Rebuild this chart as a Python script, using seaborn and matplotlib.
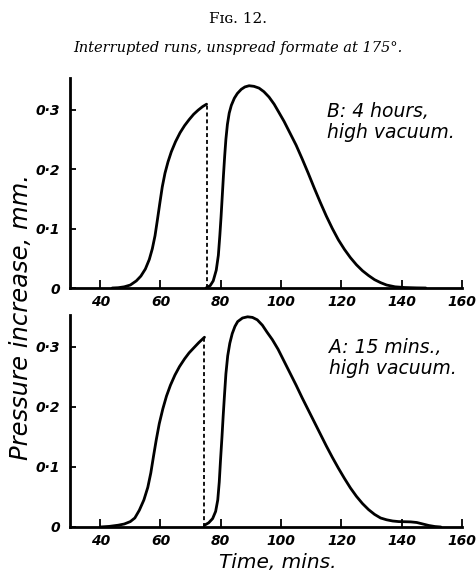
import matplotlib
matplotlib.use("Agg")
import matplotlib.pyplot as plt
import seaborn as sns
import pandas as pd

# ---- data: run B (4 hours, high vacuum) ----
b_rise_t = [44, 46, 48, 50, 52, 53.5, 55, 56.3, 57.3, 58.2, 59, 59.8, 60.6, 61.5, 62.5, 63.6, 65,
            66.5, 68, 69.5, 71, 72.5, 74, 75.3]
b_rise_p = [0.0, 0.0005, 0.002, 0.005, 0.012, 0.020, 0.032, 0.048, 0.066, 0.088, 0.115, 0.143,
            0.170, 0.193, 0.212, 0.229, 0.246, 0.261, 0.273, 0.283, 0.292, 0.299, 0.305, 0.309]
b_cut = 75.3
b_decay_t = [75.1, 76.5, 77.5, 78.5, 79.2, 79.7, 80.1, 80.5, 80.9, 81.3, 81.7, 82.2, 82.8, 83.5,
             84.5, 85.5, 86.8, 88, 89.4, 91, 92.7, 94.3, 96, 97.7, 99.3, 101, 103, 105, 107, 109,
             111, 113, 115, 117, 119, 121, 123, 125, 127, 129, 131, 133, 135, 137.8, 141, 145, 148]
b_decay_p = [0.0, 0.004, 0.012, 0.030, 0.055, 0.089, 0.12, 0.155, 0.19, 0.222, 0.25, 0.275, 0.294,
             0.307, 0.319, 0.327, 0.334, 0.338, 0.340, 0.339, 0.336, 0.330, 0.321, 0.309, 0.295,
             0.280, 0.260, 0.240, 0.217, 0.193, 0.168, 0.144, 0.121, 0.100, 0.081, 0.065, 0.051,
             0.039, 0.029, 0.021, 0.014, 0.009, 0.005, 0.002, 0.0008, 0.0002, 0.0]

# ---- data: run A (15 mins., high vacuum) ----
a_rise_t = [40, 43, 46, 48, 50, 51.5, 53, 54.5, 55.8, 56.8, 57.7, 58.6, 59.6, 60.8, 62, 63.3,
            64.8, 66.3, 68, 69.5, 71, 72.7, 74.6]
a_rise_p = [0.0, 0.001, 0.003, 0.005, 0.009, 0.015, 0.028, 0.045, 0.066, 0.09, 0.118, 0.145,
            0.172, 0.197, 0.218, 0.236, 0.253, 0.267, 0.280, 0.290, 0.298, 0.307, 0.316]
a_cut = 74.6
a_decay_t = [74.6, 76, 77.3, 78.3, 79, 79.5, 79.9, 80.4, 80.8, 81.2, 81.7, 82.3, 83.0, 83.8, 84.7,
             85.6, 87.2, 88.9, 90.5, 92.1, 93.8, 95.4, 97.1, 99, 101, 103, 105, 107, 109, 111, 113,
             115, 117, 119, 121, 123, 125, 127, 129, 131, 133, 135, 137, 139, 141, 143, 145, 147,
             149, 151, 153]
a_decay_p = [0.003, 0.007, 0.014, 0.026, 0.045, 0.075, 0.11, 0.15, 0.185, 0.217, 0.255, 0.285,
             0.306, 0.322, 0.334, 0.342, 0.348, 0.350, 0.349, 0.345, 0.336, 0.324, 0.312, 0.296,
             0.276, 0.256, 0.236, 0.215, 0.195, 0.175, 0.155, 0.135, 0.116, 0.098, 0.081, 0.065,
             0.051, 0.039, 0.029, 0.021, 0.015, 0.012, 0.010, 0.009, 0.0088, 0.0085, 0.0075, 0.005,
             0.0025, 0.0008, 0.0]

x_ticks = [40, 60, 80, 100, 120, 140, 160]
y_ticks = [0, 0.1, 0.2, 0.3]
y_tick_labels = ["0", "0·1", "0·2", "0·3"]

panels = [
    ("B", b_rise_t, b_rise_p, b_cut, b_decay_t, b_decay_p, "B: 4 hours,\nhigh vacuum."),
    ("A", a_rise_t, a_rise_p, a_cut, a_decay_t, a_decay_p, "A: 15 mins.,\nhigh vacuum."),
]

sns.set_theme(style="ticks")
plt.rcParams["font.family"] = ["DejaVu Sans"]
for key in ("text.color", "axes.labelcolor", "xtick.color", "ytick.color", "axes.edgecolor"):
    plt.rcParams[key] = "black"

fig = plt.figure(figsize=(4.77, 5.74), dpi=100)
axes_rects = [
    [70 / 477, 1 - 288 / 574, 392 / 477, 210 / 574],
    [70 / 477, 1 - 527 / 574, 392 / 477, 212 / 574],
]
note_pos = [(327 / 477, 1 - 102 / 574), (329 / 477, 1 - 338 / 574)]

tick_font = dict(family="DejaVu Sans", style="italic", weight="bold", size=10)

for rect, pos, (name, rt, rp, cut, dt, dp, note) in zip(axes_rects, note_pos, panels):
    ax = fig.add_axes(rect)
    df = pd.concat([
        pd.DataFrame({"time": rt, "pressure": rp, "seg": "rise"}),
        pd.DataFrame({"time": dt, "pressure": dp, "seg": "decay"}),
    ])
    sns.lineplot(data=df, x="time", y="pressure", units="seg", estimator=None, sort=False,
                 color="black", linewidth=2.0, ax=ax)
    # pump-out: dashed drop at the interruption
    ax.plot([cut, cut], [0, rp[-1]], color="black", linestyle=(0, (2.2, 1.6)), linewidth=1.3)

    ax.set_xlim(30, 160)
    ax.set_ylim(0, 0.353)
    ax.set_xticks(x_ticks)
    ax.set_xticklabels([str(t) for t in x_ticks], fontdict=tick_font)
    ax.set_yticks(y_ticks)
    ax.set_yticklabels(y_tick_labels, fontdict=tick_font)
    ax.tick_params(axis="x", direction="in", length=6, width=1.3, pad=5)
    ax.tick_params(axis="y", direction="in", length=4, width=1.3, pad=7)
    for side in ("top", "right"):
        ax.spines[side].set_visible(False)
    for side in ("left", "bottom"):
        ax.spines[side].set_linewidth(2.0)
    ax.set_xlabel("")
    ax.set_ylabel("")
    fig.text(pos[0], pos[1], note, fontsize=13.5, style="italic", ha="left", va="top",
             linespacing=1.1)

fig.text(238 / 477, 1 - 19 / 574, "Fɪɢ. 12.", ha="center", va="center",
         family="DejaVu Serif", fontsize=11)
fig.text(238 / 477, 1 - 48 / 574, "Interrupted runs, unspread formate at 175°.", ha="center",
         va="center", family="DejaVu Serif", style="italic", fontsize=10.5)
fig.text(21 / 477, 1 - 317 / 574, "Pressure increase, mm.", rotation=90, ha="center", va="center",
         style="italic", fontsize=17.5)
fig.text(278 / 477, 1 - 563 / 574, "Time, mins.", ha="center", va="center",
         style="italic", fontsize=14.5)

fig.savefig("out.png", dpi=100, facecolor="white")
